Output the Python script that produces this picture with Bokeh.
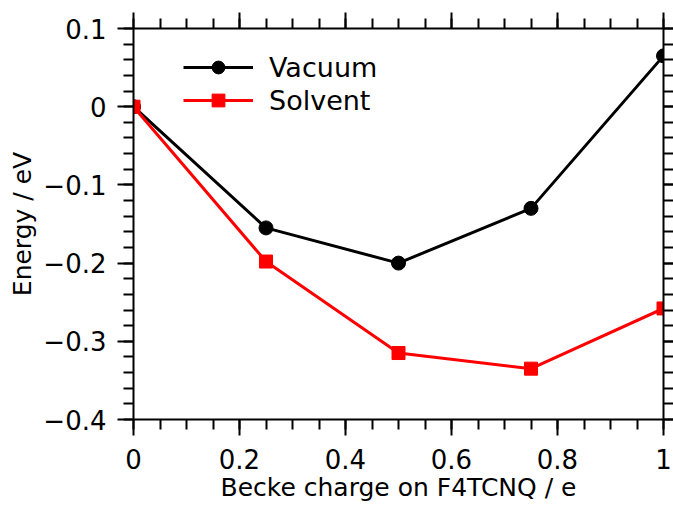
import numpy as np
from bokeh.plotting import figure
from bokeh.models import (Range1d, FixedTicker, LinearAxis, Legend, LegendItem)
from bokeh.embed import file_html
from bokeh.resources import INLINE

# ---- data ----
charge = [0.0, 0.25, 0.5, 0.75, 1.0]
vacuum = [0.0, -0.155, -0.200, -0.130, 0.065]
solvent = [0.0, -0.198, -0.315, -0.335, -0.258]

x_ticks = [0, 0.2, 0.4, 0.6, 0.8, 1]
x_tick_labels = ["0", "0.2", "0.4", "0.6", "0.8", "1"]
y_ticks = [-0.4, -0.3, -0.2, -0.1, 0, 0.1]
y_tick_labels = ["\u22120.4", "\u22120.3", "\u22120.2", "\u22120.1", "0", "0.1"]

x_minor = [float(v) for v in np.round(np.arange(0, 1.0001, 0.05), 4)]
y_minor = [float(v) for v in np.round(np.arange(-0.4, 0.1001, 0.02), 4)]

x_title = "Becke charge on F4TCNQ / e"
y_title = "Energy / eV"

FONT = "DejaVu Sans"

p = figure(width=673, height=509, output_backend="svg", toolbar_location=None,
           x_range=Range1d(0, 1), y_range=Range1d(-0.4, 0.1),
           x_axis_label=x_title, y_axis_label=y_title,
           min_border_left=133, min_border_right=10, min_border_top=28,
           min_border_bottom=90)
p.grid.visible = False
p.outline_line_color = None
p.background_fill_color = "white"
p.border_fill_color = "white"


def style_axis(ax, ticks, minor, labels=None, show_labels=True, tick_out=16, minor_out=10):
    ax.ticker = FixedTicker(ticks=ticks, minor_ticks=minor)
    ax.axis_line_color = "black"
    ax.axis_line_width = 2
    ax.major_tick_line_color = "black"
    ax.major_tick_line_width = 2
    ax.minor_tick_line_color = "black"
    ax.minor_tick_line_width = 2
    ax.major_tick_in = 0
    ax.major_tick_out = tick_out
    ax.minor_tick_in = 0
    ax.minor_tick_out = minor_out
    if show_labels:
        ax.major_label_text_font = FONT
        ax.major_label_text_font_size = "26px"
        ax.major_label_text_color = "black"
        if labels is not None:
            ax.major_label_overrides = {t: l for t, l in zip(ticks, labels)}
    else:
        ax.major_label_text_font_size = "10px"
        ax.major_label_standoff = 0
        ax.major_label_overrides = {t: "" for t in ticks}
        ax.axis_label = None


xa = p.xaxis[0]
ya = p.yaxis[0]
style_axis(xa, x_ticks, x_minor, x_tick_labels)
style_axis(ya, y_ticks, y_minor, y_tick_labels)
xa.major_label_standoff = 13
xa.axis_label_standoff = 1
ya.major_label_standoff = 11
ya.axis_label_standoff = 3
for ax in (xa, ya):
    ax.axis_label_text_font = FONT
    ax.axis_label_text_font_size = "25px"
    ax.axis_label_text_font_style = "normal"
    ax.axis_label_text_color = "black"

top = LinearAxis()
style_axis(top, x_ticks, x_minor, show_labels=False)
p.add_layout(top, "above")
right = LinearAxis()
style_axis(right, y_ticks, y_minor, show_labels=False, tick_out=10, minor_out=10)
p.add_layout(right, "right")

# ---- series ----
lv = p.line(charge, vacuum, line_color="black", line_width=3)
sv = p.scatter(charge, vacuum, marker="circle", size=14, fill_color="black", line_color="black")
ls = p.line(charge, solvent, line_color="red", line_width=3)
ss = p.scatter(charge, solvent, marker="square", size=13, fill_color="red", line_color="red")

legend = Legend(items=[LegendItem(label="Vacuum", renderers=[lv, sv]),
                       LegendItem(label="Solvent", renderers=[ls, ss])],
                location=(50, 303), orientation="vertical")
legend.background_fill_alpha = 0
legend.border_line_color = None
legend.padding = 0
legend.margin = 0
legend.spacing = 1
legend.glyph_width = 70
legend.glyph_height = 32
legend.label_height = 32
legend.label_standoff = 16
legend.label_text_font = FONT
legend.label_text_font_size = "27px"
legend.label_text_color = "black"
p.add_layout(legend, "center")

open("out.html", "w").write(file_html(p, INLINE))
